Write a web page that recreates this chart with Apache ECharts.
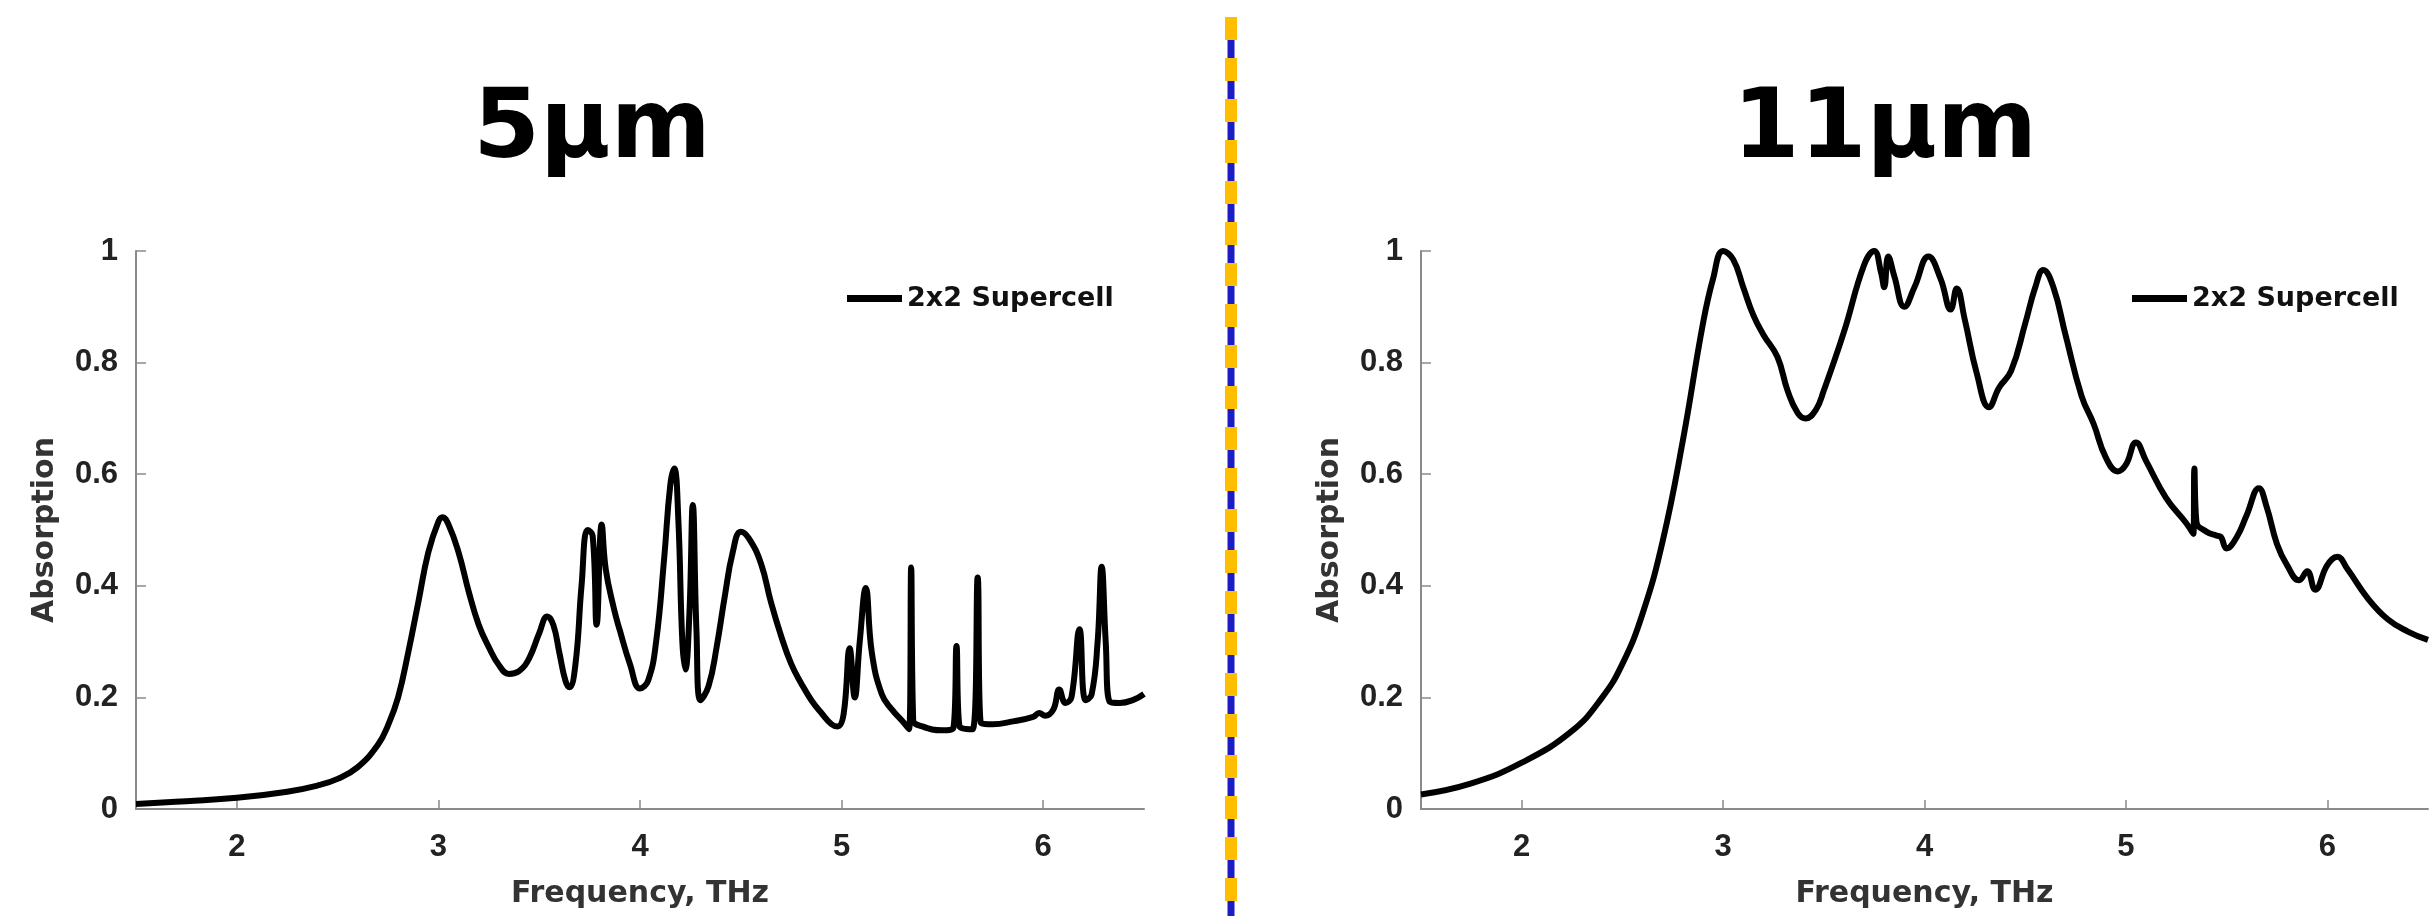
<!DOCTYPE html>
<html>
<head>
<meta charset="utf-8">
<script src="https://cdn.jsdelivr.net/npm/echarts@6/dist/echarts.min.js"></script>
<style>
  html, body { margin: 0; padding: 0; background: #fff; }
  #chart { width: 2435px; height: 916px; }
</style>
</head>
<body>
<div id="chart"></div>
<script>
const titles = ['5µm', '11µm'];
const seriesName = '2x2 Supercell';
const xTicks = [2, 3, 4, 5, 6];

const freq5 = [1.5, 1.75, 2.0, 2.25, 2.4, 2.5, 2.6, 2.7, 2.75, 2.8, 2.85, 2.9, 2.95, 3.0, 3.02, 3.05, 3.1, 3.15, 3.2, 3.25, 3.3, 3.35,
  3.4, 3.45, 3.5, 3.54, 3.57, 3.6, 3.63, 3.65, 3.68, 3.71, 3.74, 3.765, 3.785, 3.81, 3.83, 3.87, 3.9, 3.95, 4.0, 4.04, 4.08,
  4.12, 4.15, 4.17, 4.19, 4.21, 4.225, 4.245, 4.262, 4.28, 4.3, 4.34, 4.38, 4.42, 4.46, 4.5, 4.54, 4.6, 4.65, 4.7, 4.75, 4.8,
  4.85, 4.9, 4.95, 4.98, 5.01, 5.04, 5.065, 5.09, 5.12, 5.15, 5.2, 5.25, 5.3, 5.335, 5.345, 5.355, 5.4, 5.5, 5.555, 5.57,
  5.585, 5.65, 5.675, 5.69, 5.75, 5.85, 5.95, 5.98, 6.01, 6.05, 6.08, 6.11, 6.14, 6.18, 6.21, 6.24, 6.27, 6.29, 6.31, 6.33,
  6.38, 6.45, 6.5];
const abs5 = [0.009, 0.014, 0.02, 0.031, 0.042, 0.054, 0.075, 0.115, 0.15, 0.2, 0.28, 0.37, 0.46, 0.515, 0.523, 0.51, 0.46, 0.39, 0.33, 0.29, 0.258, 0.242,
  0.247, 0.27, 0.315, 0.345, 0.33, 0.28, 0.23, 0.218, 0.26, 0.4, 0.5, 0.49, 0.33, 0.51, 0.43, 0.36, 0.32, 0.26, 0.216, 0.23, 0.3,
  0.45, 0.58, 0.61, 0.52, 0.3, 0.25, 0.35, 0.545, 0.32, 0.195, 0.22, 0.29, 0.38, 0.46, 0.497, 0.485, 0.44, 0.37, 0.31, 0.26, 0.225,
  0.195, 0.172, 0.152, 0.148, 0.17, 0.288, 0.2, 0.3, 0.396, 0.28, 0.205, 0.178, 0.158, 0.143, 0.433, 0.16, 0.148, 0.141, 0.146, 0.292,
  0.148, 0.143, 0.415, 0.155, 0.152, 0.157, 0.165, 0.172, 0.167, 0.178, 0.214, 0.19, 0.2, 0.322, 0.195, 0.205, 0.3, 0.434, 0.3, 0.192,
  0.19, 0.196, 0.206];

const freq11 = [1.5, 1.75, 2.0, 2.25, 2.4, 2.5, 2.6, 2.7, 2.8, 2.9, 2.95, 3.0, 3.05, 3.1, 3.15, 3.2, 3.27, 3.32, 3.37, 3.41, 3.46, 3.5,
  3.6, 3.7, 3.75, 3.785, 3.8, 3.82, 3.85, 3.9, 3.95, 4.02, 4.08, 4.13, 4.16, 4.2, 4.26, 4.32, 4.37, 4.43, 4.5, 4.55, 4.59,
  4.64, 4.7, 4.78, 4.84, 4.9, 4.96, 5.0, 5.05, 5.1, 5.2, 5.3, 5.335, 5.34, 5.35, 5.4, 5.45, 5.47, 5.5, 5.55, 5.6, 5.66, 5.7,
  5.75, 5.8, 5.86, 5.9, 5.94, 6.0, 6.05, 6.1, 6.2, 6.3, 6.4, 6.5];
const abs11 = [0.026, 0.046, 0.083, 0.14, 0.2, 0.26, 0.35, 0.48, 0.66, 0.87, 0.95, 1.0, 0.985, 0.935, 0.885, 0.85, 0.81, 0.75, 0.71, 0.70, 0.715, 0.75,
  0.855, 0.975, 1.0, 0.96, 0.935, 0.99, 0.955, 0.9, 0.935, 0.99, 0.95, 0.895, 0.933, 0.877, 0.78, 0.72, 0.755, 0.785, 0.87, 0.935, 0.966,
  0.935, 0.85, 0.74, 0.69, 0.63, 0.605, 0.617, 0.657, 0.624, 0.557, 0.512, 0.493, 0.61, 0.515, 0.497, 0.49, 0.488, 0.467, 0.487, 0.527, 0.575, 0.54,
  0.475, 0.437, 0.41, 0.426, 0.393, 0.437, 0.452, 0.43, 0.378, 0.34, 0.318, 0.303];

const pairs = (xs, ys) => xs.map((x, i) => [x, ys[i]]);

const TICK_FONT = '"Liberation Sans", Arial, sans-serif';
const BOLD_FONT = '"DejaVu Sans", Verdana, sans-serif';

const grids = [
  { left: 136, top: 251, width: 1008, height: 558 },
  { left: 1421, top: 251, width: 1007, height: 558 },
];

const xAxisFor = (i) => ({
  type: 'value',
  gridIndex: i,
  min: 1.5,
  max: 6.5,
  name: 'Frequency, THz',
  nameLocation: 'middle',
  nameGap: 70,
  nameTextStyle: { fontFamily: BOLD_FONT, fontWeight: 'bold', fontSize: 30, color: '#333' },
  axisLine: { show: true, lineStyle: { color: '#8a8a8a', width: 2 } },
  axisTick: { show: true, inside: true, length: 9, customValues: xTicks, lineStyle: { color: '#8a8a8a', width: 1.5 } },
  axisLabel: { customValues: xTicks, margin: 23, fontFamily: TICK_FONT, fontWeight: 'bold', fontSize: 31, color: '#222' },
  splitLine: { show: false },
});

const yAxisFor = (i) => ({
  type: 'value',
  gridIndex: i,
  min: 0,
  max: 1,
  interval: 0.2,
  name: 'Absorption',
  nameLocation: 'middle',
  nameGap: 76,
  nameTextStyle: { fontFamily: BOLD_FONT, fontWeight: 'bold', fontSize: 30, color: '#333' },
  axisLine: { show: true, lineStyle: { color: '#8a8a8a', width: 2 } },
  axisTick: { show: true, inside: true, length: 10, lineStyle: { color: '#8a8a8a', width: 1.5 } },
  axisLabel: { margin: 18, fontFamily: TICK_FONT, fontWeight: 'bold', fontSize: 31, color: '#222' },
  splitLine: { show: false },
});

const lineSeries = (i, data) => ({
  name: seriesName,
  type: 'line',
  xAxisIndex: i,
  yAxisIndex: i,
  data: data,
  showSymbol: false,
  smooth: 0.45,
  lineStyle: { color: '#000', width: 6, join: 'round' },
  itemStyle: { color: '#000' },
});

const legendAt = (left) => ({
  left: left,
  top: 280,
  data: [seriesName],
  icon: 'rect',
  itemWidth: 55,
  itemHeight: 7,
  textStyle: { fontFamily: BOLD_FONT, fontWeight: 'bold', fontSize: 27, color: '#111' },
  selectedMode: false,
});

const chart = echarts.init(document.getElementById('chart'), null, { renderer: 'canvas' });
chart.setOption({
  backgroundColor: '#fff',
  animation: false,
  title: [
    { text: titles[0], left: 587, top: 79, textAlign: 'center',
      textStyle: { fontFamily: BOLD_FONT, fontWeight: 'bold', fontSize: 96, color: '#000' } },
    { text: titles[1], left: 1880, top: 79, textAlign: 'center',
      textStyle: { fontFamily: BOLD_FONT, fontWeight: 'bold', fontSize: 96, color: '#000' } },
  ],
  legend: [legendAt(842), legendAt(2127)],
  grid: grids,
  xAxis: [xAxisFor(0), xAxisFor(1)],
  yAxis: [yAxisFor(0), yAxisFor(1)],
  series: [lineSeries(0, pairs(freq5, abs5)), lineSeries(1, pairs(freq11, abs11))],
  graphic: [
    { type: 'line', shape: { x1: 1231, y1: 17, x2: 1231, y2: 916 },
      style: { stroke: '#1c1cc4', lineWidth: 7 } },
    { type: 'line', shape: { x1: 1231, y1: 17, x2: 1231, y2: 916 },
      style: { stroke: '#ffbe00', lineWidth: 12, lineDash: [23, 18] } },
  ],
});
</script>
</body>
</html>
